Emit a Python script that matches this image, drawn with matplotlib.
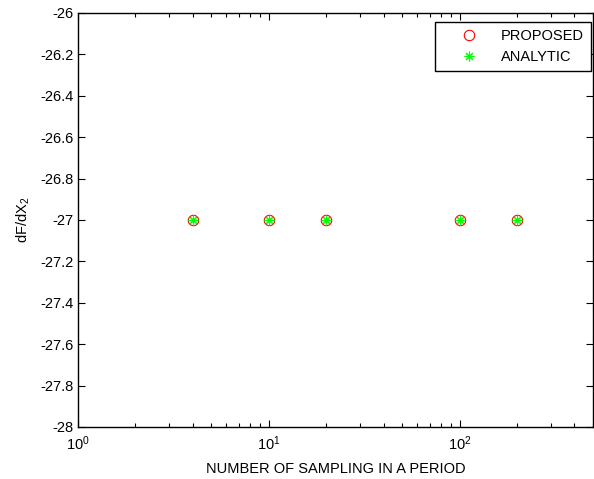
import matplotlib
matplotlib.use("Agg")
import matplotlib.pyplot as plt
from matplotlib.ticker import LogLocator, NullFormatter

plt.rcParams['font.family'] = ['Liberation Sans', 'DejaVu Sans']
plt.rcParams['font.size'] = 10.5
plt.rcParams['mathtext.fontset'] = 'custom'
plt.rcParams['mathtext.rm'] = 'Liberation Sans'
plt.rcParams['mathtext.it'] = 'Liberation Sans'

samples = [4, 10, 20, 100, 200]
proposed = [-27.0, -27.0, -27.0, -27.0, -27.0]
analytic = [-27.0, -27.0, -27.0, -27.0, -27.0]
yticks = [-28, -27.8, -27.6, -27.4, -27.2, -27, -26.8, -26.6, -26.4, -26.2, -26]

fig = plt.figure(figsize=(5.94, 4.79), dpi=100)
ax = fig.add_axes([0.1313, 0.1086, 0.8670, 0.8643])

ax.semilogx(samples, proposed, linestyle='none', marker='o', markersize=7.5,
            markerfacecolor='none', markeredgecolor='red', markeredgewidth=0.8, label='PROPOSED')
ax.semilogx(samples, analytic, linestyle='none', marker=(8, 2, 0), markersize=7,
            color='#00ff00', markeredgecolor='#00ff00', markeredgewidth=0.8, label='ANALYTIC')

ax.set_xlim(1, 500)
ax.set_ylim(-28, -26)
ax.set_yticks(yticks)
ax.set_yticklabels([('%g' % v) for v in yticks])
ax.xaxis.set_major_locator(LogLocator(base=10, numticks=10))
ax.xaxis.set_minor_locator(LogLocator(base=10, subs=range(2, 10), numticks=20))
ax.xaxis.set_minor_formatter(NullFormatter())

ax.tick_params(which='both', direction='in', top=True, right=True, width=0.8)
ax.tick_params(which='major', length=5)
ax.tick_params(which='minor', length=3)
ax.tick_params(axis='x', pad=5)
for s in ax.spines.values():
    s.set_linewidth(1.0)

ax.set_xlabel('NUMBER OF SAMPLING IN A PERIOD', labelpad=7)
ax.set_ylabel(r'dF/dX$_2$', labelpad=6)

leg = ax.legend(loc='upper right', fancybox=False, framealpha=1, edgecolor='black',
                borderpad=0.5, handlelength=3.7, handletextpad=0.3, labelspacing=0.45,
                borderaxespad=0, bbox_to_anchor=(0.996, 0.978))
leg.get_frame().set_linewidth(1.0)

fig.savefig('out.png', dpi=100)
